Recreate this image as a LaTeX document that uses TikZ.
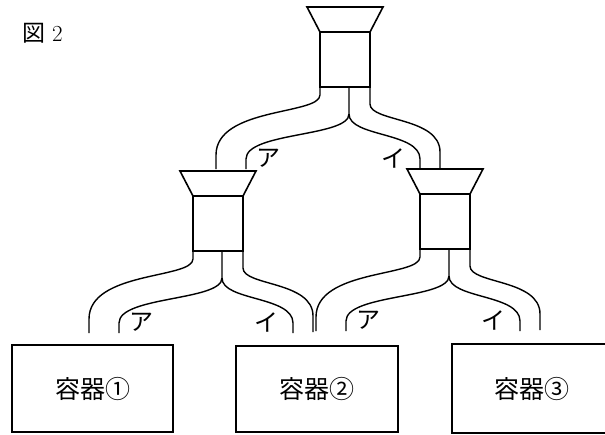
\documentclass[tikz,border=0pt]{standalone}
\usepackage{fontspec}
\newfontfamily\cjk{Noto Sans CJK JP}
\begin{document}
\begin{tikzpicture}[x=1pt,y=-1pt,
		tube/.style={line width=1.4pt},
		rim/.style={line width=1.6pt},
		vessel/.style={draw,line width=1.6pt,inner sep=0pt,font=\cjk\fontsize{25}{25}\selectfont},
		kana/.style={inner sep=0pt,font=\cjk\fontsize{24}{24}\selectfont}]
		\useasboundingbox (0,0) rectangle (605,434);
		\node[anchor=west,inner sep=0pt] (title) at (22,33) {\fontsize{23}{23}\selectfont{\cjk 図} 2};
		% funnels with their split tubes
		\foreach \cx/\yt/\nm in {345/7/top, 218/171/left, 445/169/right} {
			\begin{scope}[shift={(\cx,\yt)}]
			\draw[rim] (-38,0) -- (38,0) -- (25,25) -- (-25,25) -- cycle;
			\draw[rim] (-25,25) rectangle (25,80);
			\draw[tube] (-25,80) -- (-25,88) .. controls (-25,108) and (-129,100) .. (-129,148) -- (-129,162);
			\draw[tube] (4,80) -- (4,107) .. controls (4,130) and (-99,125) .. (-99,152) -- (-99,162);
			\draw[tube] (4,107) .. controls (4,130) and (75,125) .. (75,152) -- (75,162);
			\draw[tube] (25,80) -- (25,97) .. controls (25,115) and (95,110) .. (95,145) -- (95,161);
			\node[kana] (a-\nm) at (-77,151) {ア};
			\node[kana] (i-\nm) at (48,151) {イ};
			\end{scope}
		}
		\node[vessel,minimum width=161pt,minimum height=87pt] (c1) at (92.5,388.5) {容器①};
		\node[vessel,minimum width=162pt,minimum height=86pt] (c2) at (317,389) {容器②};
		\node[vessel,minimum width=160pt,minimum height=89pt] (c3) at (532,388.5) {容器③};
\end{tikzpicture}
\end{document}
